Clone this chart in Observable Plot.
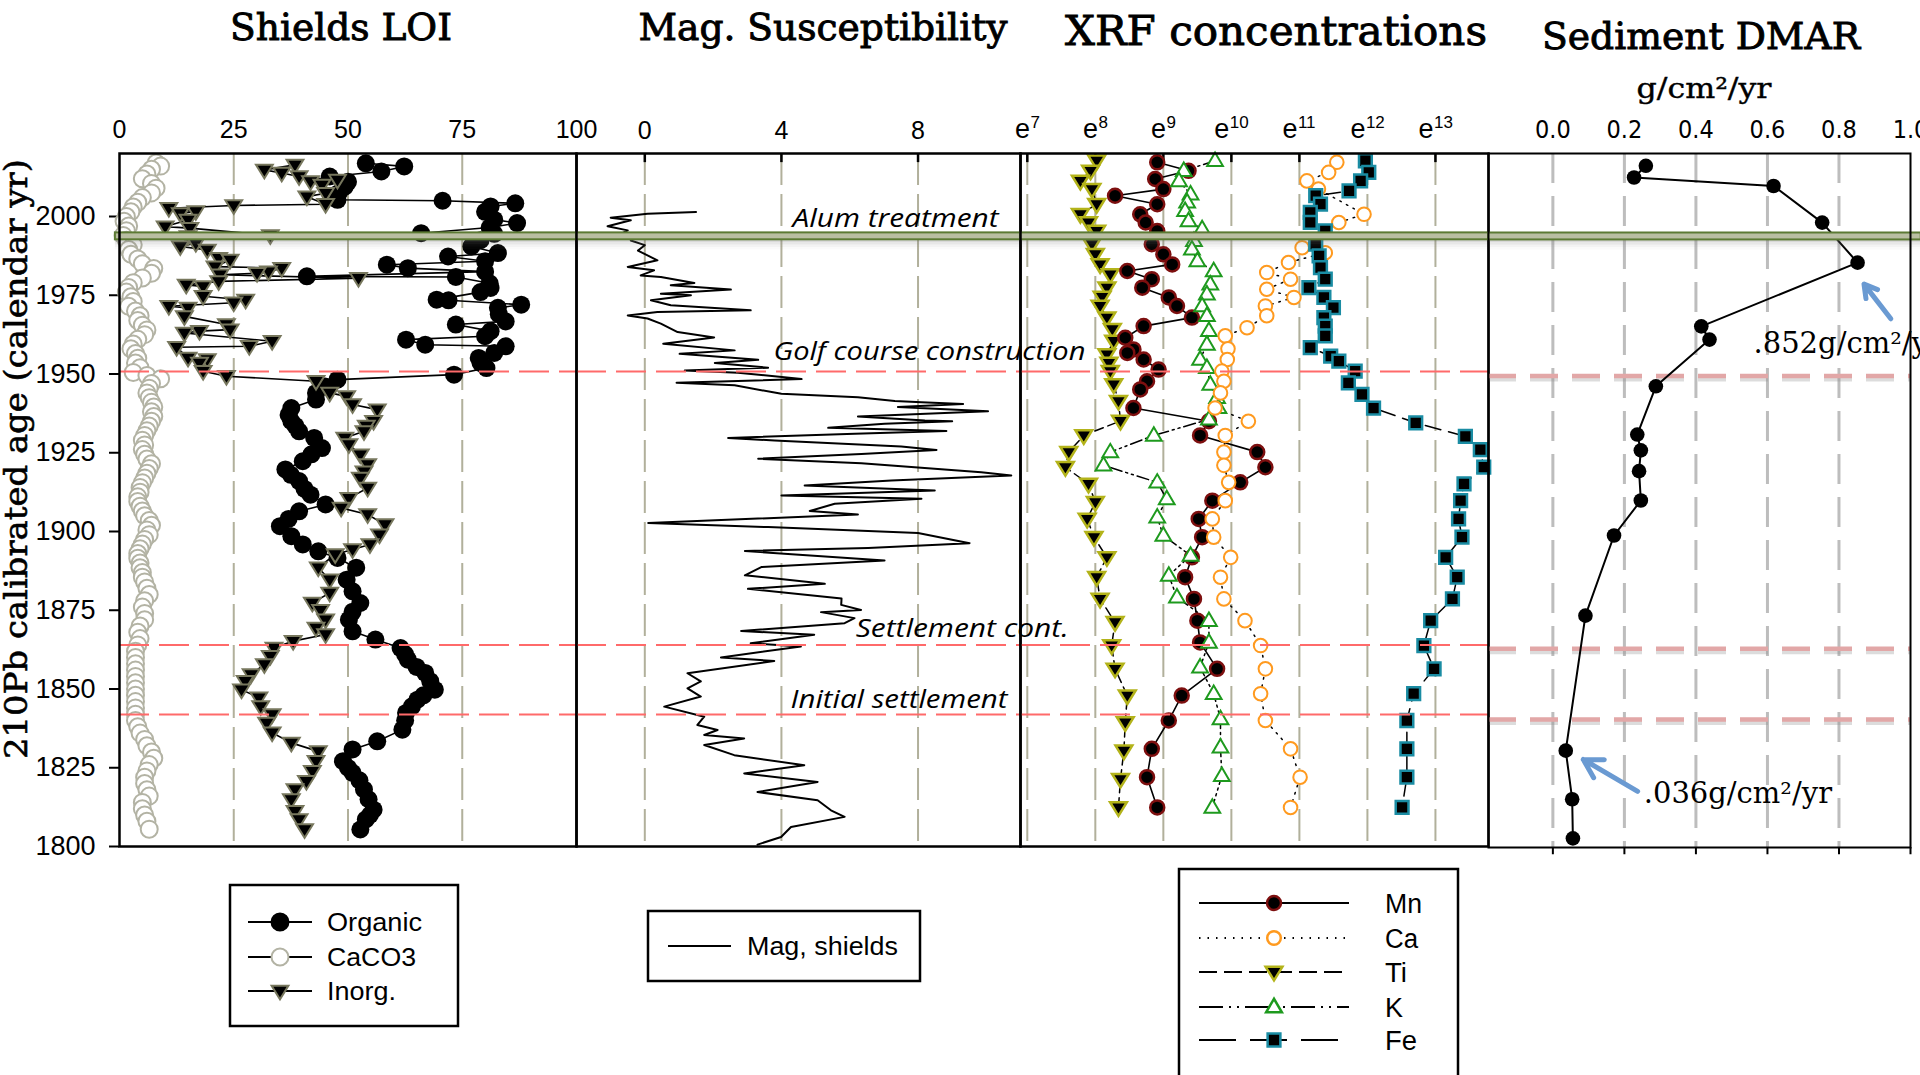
<!DOCTYPE html>
<html><head><meta charset="utf-8">
<script src="https://cdn.jsdelivr.net/npm/d3@7"></script>
<script src="https://cdn.jsdelivr.net/npm/@observablehq/plot@0.6"></script>
<style>
html,body{margin:0;padding:0;background:#fff;}
#wrap{position:relative;width:1920px;height:1075px;overflow:hidden;background:#fff;}
#wrap svg{position:absolute;left:0;top:0;}
</style></head><body><div id="wrap"></div>
<script>
// ---------- DATA : [year, value] ----------
const organic = [[2016.9,53.9],[2015.9,62.3],[2014.3,57.3],[2012.7,46],[2011,50],[2009.5,49.3],[2007.5,48],[2005.3,47.7],[2005,70.7],[2004.2,86.6],[2003.2,81.2],[2001.5,80],[1999,82],[1997.9,87],[1996.5,81],[1994.7,66],[1994.5,82],[1992.5,79],[1990.5,77],[1988.4,82.8],[1987.3,71.9],[1985.8,80],[1984.7,58.5],[1983.6,63.1],[1982.5,80],[1981,41],[1980.8,73.6],[1978.8,81],[1977.3,81.2],[1976,79],[1973.6,69.4],[1973.4,72],[1972,87.9],[1971,82.8],[1969,83],[1966.7,84.5],[1965.7,73.6],[1963.6,81.2],[1962,80],[1960.9,62.7],[1959.3,66.9],[1958.8,84.5],[1956.7,82],[1955.1,78.6],[1953.5,79],[1951.9,80.3],[1949.8,73.2],[1948.2,47.7],[1946,45],[1944,43],[1941.9,43],[1939.2,37.6],[1937,37],[1935,37.6],[1933.5,38.5],[1931.8,39.3],[1929.7,42.6],[1926.5,44.3],[1924.5,42],[1922.3,40.1],[1919.7,36.3],[1918,37.5],[1916,39.3],[1913.5,40.5],[1911.7,41.8],[1908.6,45.1],[1906.4,39.3],[1904,37],[1901.7,35.1],[1898.5,37.6],[1895.9,40.1],[1893.7,43.5],[1891.6,47.7],[1888.5,51.8],[1884.7,49.7],[1881,51],[1877.3,52.7],[1874.5,51],[1872,50.2],[1868.3,51],[1865.7,56],[1863,61.5],[1861,62.5],[1859.3,63.1],[1857,65],[1855.1,66.9],[1852.5,68],[1849.8,69],[1848,66.5],[1846.6,65.2],[1844.5,64],[1842.4,62.7],[1840,62.5],[1837.1,61.9],[1833.4,56.4],[1830.8,51],[1827.1,48.9],[1825,50],[1823.4,51],[1821,52.5],[1818.1,53.5],[1815,54.5],[1811.7,55.6],[1810,54.8],[1808.6,53.9],[1805.4,52.7]];
const inorg = [[2016.4,38.4],[2014.8,31.7],[2013.8,35.5],[2012.7,39.3],[2011.6,47.7],[2011.1,41.8],[2010,44.3],[2007.4,45.1],[2006.3,41],[2003.9,45.1],[2003.5,25],[2002.6,10.8],[2001.6,16.7],[2001,13.3],[1998.9,15],[1996.8,10],[1996.3,15.4],[1994,33],[1993.7,15],[1991.5,16.7],[1990.5,13.3],[1989.4,19.2],[1986.8,21.7],[1986.2,24.2],[1984.1,20.9],[1983.6,35.5],[1982.5,32.6],[1982,30.1],[1981.5,22],[1980.4,52.3],[1979.4,21.7],[1978.3,14.6],[1977.8,18.3],[1974.7,18.3],[1973.5,27.6],[1972.6,25],[1971.5,10.8],[1971,15],[1968.3,14.2],[1965.7,23.4],[1964.1,24.2],[1963.6,17.5],[1963,14.2],[1960.4,33.4],[1958.8,28.4],[1958.5,12.5],[1955.1,15],[1954.6,19.2],[1953.5,17.5],[1950.9,18.3],[1949.3,23.4],[1947.7,43],[1944,46],[1942.9,49.7],[1940.3,51],[1938.7,56.4],[1935,55.6],[1933.5,54],[1931.8,53.5],[1929.7,49.3],[1927.6,50.2],[1924.4,52.7],[1921.3,54.3],[1919,53.5],[1917,52.7],[1913.8,54.3],[1910.6,50.2],[1907.5,48.5],[1905.4,54.3],[1902.2,58.1],[1899,56.9],[1895.9,54.8],[1894.3,51],[1892.7,47.2],[1888.5,43.5],[1884.7,46],[1880.5,46],[1877.3,42.2],[1875,44],[1872,45.1],[1869.4,43],[1867.3,45.1],[1865.2,38],[1863,33.8],[1860.4,33],[1857.8,31.7],[1854.6,28.8],[1852.5,27.5],[1849.8,26.7],[1847.2,30.5],[1844.5,30.9],[1841.9,33.4],[1839.2,32.2],[1836.1,33.4],[1832.9,37.6],[1830.2,43.5],[1827.1,43],[1823.9,42.2],[1820.7,40.9],[1818.1,38.4],[1814.9,37.6],[1811.2,38.4],[1808.6,39.3],[1805.4,40.5]];
const caco3 = [[2017,8],[2016,9],[2015,7],[2013.5,6],[2012,5],[2010.5,7],[2009,8],[2007.5,7],[2006,5],[2004.5,4],[2003,3],[2001.5,2.5],[2000,1.5],[1998.5,1],[1997,2],[1995.5,1.5],[1994,0.8],[1992.5,1.5],[1991,3],[1989.5,2],[1988,2.5],[1986.5,4],[1985,5],[1983.5,7.5],[1982,7],[1980.5,5],[1979,3],[1977.5,2],[1976,1.5],[1974.5,2.5],[1973,3],[1971.5,2],[1970,3.5],[1968.5,4.5],[1967,4],[1965.5,5],[1964,6],[1962.5,5.5],[1961,4],[1959.5,3],[1958,2.5],[1956.5,3.5],[1955,4],[1953.5,3.5],[1952,4.5],[1950.5,3],[1949.5,6],[1948.5,9],[1947,7],[1945.5,6.5],[1944,6],[1942.5,6.5],[1941,7],[1939.5,7.5],[1938,7],[1936.5,7.5],[1935,7],[1933.5,6.5],[1932,6],[1930.5,5.5],[1929,5],[1927.5,5.5],[1926,5],[1924.5,5.5],[1923,6],[1921.5,7],[1920,6.5],[1918.5,6],[1917,5.5],[1915.5,5],[1914,4.5],[1912.5,4.5],[1911,4],[1909.5,4],[1908,4.5],[1906.5,5],[1905,5.5],[1903.5,6.5],[1902,7],[1900.5,6],[1899,6.5],[1897.5,5.5],[1896,5],[1894.5,4.5],[1893,4],[1891.5,4],[1890,4.5],[1888.5,4.5],[1887,5],[1885.5,5],[1884,5.5],[1882,6],[1880,6.5],[1878,5.5],[1876,5],[1874,5.5],[1872,5.5],[1870,4.5],[1868,4],[1866,4.5],[1864,4],[1862,3.5],[1860,3.5],[1858,3.5],[1856,3.5],[1854,3.5],[1852,3.5],[1850,3.5],[1848,3.5],[1846,3.5],[1844,3.5],[1842,3.5],[1840,3.5],[1838,4],[1836,4.5],[1834,5.5],[1832,6],[1830,7],[1828,7.5],[1826,6.5],[1824,6],[1822,5.5],[1820,5.5],[1818,6],[1816,6.5],[1814,5],[1812,5],[1810,5.5],[1808,6],[1805.5,6.5]];
const magSus = [[2001.4,1.5],[2000.9,0.08],[1999.6,-1.0],[1998.8,-0.41],[1996.9,-1.09],[1995.6,-0.5],[1994.5,-0.7],[1993.5,-0.2],[1992.4,-0.41],[1990.9,0],[1989.2,-0.2],[1987.1,0.18],[1986.1,0.37],[1984,-0.5],[1982.9,0.27],[1981.3,-0.12],[1980.8,0.47],[1978.9,1.45],[1978.2,0.76],[1976.8,2.52],[1975.5,0.47],[1975,1.35],[1973.4,0.18],[1971.8,0.76],[1970.2,3.1],[1969.7,0.37],[1968.6,-0.5],[1967.6,0.08],[1966,0.47],[1963.3,0.96],[1961.6,2.03],[1959.6,0.54],[1957.5,2.63],[1956.4,1.02],[1954.5,3.32],[1953.5,2.05],[1952,3.61],[1951.1,1.17],[1950.4,2.73],[1948.4,4.59],[1947.2,0.93],[1946.4,2.63],[1943.7,4.0],[1942.6,6.24],[1941.4,7.32],[1941,8.1],[1940.5,9.32],[1939.5,7.41],[1938.2,10.05],[1936.5,6.24],[1935.2,8.2],[1935,9.0],[1934.2,7.02],[1932.9,5.37],[1931.9,8.83],[1931,6.15],[1929.7,2.44],[1928.9,3.8],[1927,7.51],[1925.9,8.54],[1924.6,6.34],[1923.1,3.32],[1921.7,6.34],[1920.4,7.9],[1918.8,9.85],[1917.8,10.73],[1916.2,7.22],[1914.6,4.68],[1913,8.49],[1911.4,4.0],[1910.4,8.1],[1908.8,5.56],[1906.5,4.83],[1905.4,6.24],[1902.7,0.1],[1901.4,3.61],[1899.5,8.0],[1896.3,9.51],[1894.8,6.54],[1893.8,2.93],[1890.8,7.02],[1888.7,3.41],[1886.1,2.93],[1883.4,5.27],[1881.8,3.02],[1878.7,5.76],[1876.7,5.75],[1875.1,6.33],[1874.4,5.16],[1872.5,6.14],[1870.9,5.85],[1868.4,2.82],[1867.2,4.96],[1864.5,3.1],[1863.5,4.57],[1860,2.23],[1858.9,3.79],[1855,1.25],[1852.4,1.64],[1850.2,1.25],[1847.6,1.64],[1844.4,0.57],[1841.2,1.74],[1838.6,1.54],[1837,2.13],[1835.4,1.74],[1834.3,2.91],[1832.2,1.74],[1829,2.62],[1825.8,4.67],[1823.2,2.91],[1820.5,5.06],[1817.3,3.3],[1814.7,5.06],[1811.5,5.45],[1809.4,5.85],[1806.2,4.28],[1803,3.99],[1800.6,3.3]];
// XRF: value = natural-log exponent of concentration
const mn = [[2017.2,8.91],[2014.5,9.37],[2011.9,8.88],[2008.7,9.0],[2006.6,8.29],[2003.9,8.91],[2000.7,8.66],[1998.1,8.74],[1995.4,8.91],[1991.2,8.83],[1988,9.0],[1984.8,9.13],[1982.7,8.47],[1980.1,8.83],[1977.4,8.69],[1974.3,9.08],[1971.6,9.2],[1967.9,9.42],[1965.2,8.71],[1961.5,8.44],[1957.8,8.56],[1956.7,8.47],[1954.6,8.71],[1951.4,8.93],[1947.7,8.76],[1945.1,8.66],[1939.2,8.56],[1935,9.67],[1930.5,9.54],[1925.2,10.38],[1920.4,10.5],[1915.6,10.13],[1909.8,9.72],[1904,9.52],[1898.2,9.57],[1891.8,9.42],[1885.5,9.32],[1878.6,9.45],[1871.7,9.5],[1864.8,9.54],[1856.4,9.79],[1847.9,9.27],[1840,9.08],[1831,8.83],[1822,8.76],[1812.4,8.91]];
const ca = [[2017.2,11.55],[2014,11.43],[2011.3,11.11],[2008.7,11.28],[2000.7,11.95],[1998.1,11.58],[1990.1,11.04],[1988.5,11.38],[1985.4,10.84],[1982.2,10.52],[1980.1,10.87],[1976.9,10.52],[1974.3,10.92],[1971.6,10.5],[1968.5,10.52],[1964.7,10.23],[1962.1,9.91],[1958,9.95],[1954.6,9.94],[1950.9,9.86],[1947.7,9.89],[1944,9.84],[1939.2,9.76],[1935,10.25],[1930.5,9.91],[1925.2,9.89],[1921,9.89],[1915.6,9.96],[1909.8,9.91],[1904,9.72],[1898.2,9.74],[1891.8,9.99],[1885.5,9.84],[1878.6,9.89],[1871.7,10.2],[1863.8,10.43],[1856.4,10.5],[1848.5,10.43],[1840,10.5],[1831,10.87],[1822,11.01],[1812.4,10.87]];
const ti = [[2017.7,8.02],[2014.5,7.93],[2011.3,7.78],[2008.7,7.95],[2003.9,8.02],[2000.7,7.78],[1998.1,7.9],[1995.4,8.02],[1991.2,7.95],[1988,8.0],[1984.8,8.07],[1981.6,8.22],[1977.4,8.17],[1974.5,8.1],[1971.6,8.07],[1967.9,8.17],[1964.2,8.25],[1960.5,8.27],[1956.2,8.17],[1953.5,8.2],[1950.9,8.22],[1946.7,8.27],[1941.4,8.34],[1935.1,8.37],[1930.5,7.83],[1925.2,7.61],[1920.4,7.56],[1915.1,7.9],[1909.3,8.0],[1904,7.88],[1898.2,7.98],[1891.8,8.17],[1885.5,8.02],[1878.6,8.07],[1871.2,8.29],[1863.8,8.24],[1856.4,8.29],[1847.9,8.47],[1839.4,8.44],[1830.4,8.42],[1821.4,8.37],[1812.4,8.34]];
const k = [[2017.7,9.76],[2014.5,9.3],[2011.3,9.23],[2007.1,9.4],[2004.5,9.35],[2001.8,9.32],[1998.6,9.37],[1996,9.57],[1992.3,9.45],[1989.6,9.42],[1985.9,9.5],[1982.7,9.74],[1978.5,9.69],[1975.3,9.64],[1971.6,9.57],[1968.5,9.64],[1963.7,9.67],[1959.4,9.64],[1954.6,9.54],[1952,9.64],[1946.7,9.69],[1942.5,9.79],[1939.3,9.81],[1935.6,9.67],[1930.5,8.86],[1925.2,8.22],[1921,8.12],[1915.6,8.91],[1910.3,9.05],[1904.5,8.91],[1898.7,9.0],[1892.4,9.4],[1886,9.08],[1879.1,9.2],[1871.7,9.67],[1864.8,9.67],[1856.9,9.54],[1848.5,9.74],[1840.5,9.84],[1831.5,9.84],[1822.5,9.86],[1812.4,9.72]];
const fe = [[2017.7,11.97],[2014,12.02],[2011.3,11.9],[2008.1,11.73],[2006.6,11.24],[2003.9,11.31],[2001.3,11.16],[1998.1,11.16],[1995.4,11.38],[1991.2,11.24],[1987.5,11.29],[1983.8,11.31],[1980.1,11.38],[1977.4,11.14],[1974.3,11.36],[1971.1,11.5],[1967.9,11.36],[1965.2,11.38],[1962.1,11.38],[1958.4,11.16],[1955.7,11.46],[1954.1,11.58],[1950.9,11.82],[1947.2,11.72],[1943.5,11.92],[1939.2,12.09],[1934.5,12.71],[1930.2,13.44],[1926,13.66],[1920.4,13.71],[1915.1,13.42],[1909.8,13.37],[1904,13.34],[1898.2,13.39],[1891.8,13.15],[1885.5,13.32],[1878.6,13.25],[1871.7,12.93],[1863.8,12.83],[1856.4,12.98],[1848.5,12.68],[1840,12.58],[1831,12.58],[1822,12.58],[1812.4,12.51]];
const dmar = [[2016.1,0.26],[2012.4,0.227],[2009.7,0.617],[1998.1,0.753],[1985.4,0.852],[1965.2,0.415],[1961,0.438],[1946.2,0.288],[1930.9,0.236],[1925.9,0.246],[1919.3,0.241],[1910,0.246],[1898.9,0.171],[1873.5,0.091],[1830.7,0.036],[1815.3,0.054],[1802.9,0.056]];

const loiTicks = [0,25,50,75,100];
const magTicks = [0,4,8];
const xrfTicks = [7,8,9,10,11,12,13];
const dmarTicks = [0,0.2,0.4,0.6,0.8,1.0];
const yearTicks = [1800,1825,1850,1875,1900,1925,1950,1975,2000];
const eventYears = [1950.8,1864.0,1841.9];
const dmarEventYears = [1949.5,1863.0,1840.6];
const alumBand = [1992.6,1994.8];
const dmarNotes = [{x:0.561,y:1956.8,t:".852g/cm²/yr"},{x:0.254,y:1814,t:".036g/cm²/yr"}];
const dmarArrows = [{x1:0.945,y1:1967.6,x2:0.870,y2:1978.6},{x1:0.237,y1:1817.8,x2:0.085,y2:1827.9}];
const eventNotes = [{x:4.34,y:1996.5,t:"Alum treatment",len:206},{x:3.78,y:1954.3,t:"Golf course construction",len:312},{x:6.19,y:1866.3,t:"Settlement cont.",len:213},{x:4.28,y:1843.8,t:"Initial settlement",len:217}];

// ---------- helpers ----------
const W=1920,H=1075,YD=[1800,2020];
const F = {loi:{l:119,r:576,t:153,b:846},mag:{l:576,r:1020,t:153,b:846},xrf:{l:1020,r:1488,t:153,b:846},dm:{l:1488,r:1910,t:153,b:847}};
const SANS = "'Liberation Sans', Arial, sans-serif";
const SERIF = "'DejaVu Serif', serif";
const GRID = {stroke:"#b1b09b",strokeWidth:2,strokeDasharray:"32,9"};
const triDown = {draw(c,s){const r=Math.sqrt(s/Math.PI),w=r*1.05,t=r*0.65,b=r*1.05;c.moveTo(-w,-t);c.lineTo(w,-t);c.lineTo(0,b);c.closePath();}};
const triUp = {draw(c,s){const r=Math.sqrt(s/Math.PI),w=r*1.05,t=r*0.7,b=r*1.1;c.moveTo(-w,t);c.lineTo(w,t);c.lineTo(0,-b);c.closePath();}};
const X = d=>d[1], Y = d=>d[0];
const dims = f => ({width:W,height:H,marginLeft:f.l,marginRight:W-f.r,marginTop:f.t,marginBottom:H-f.b,
  style:{background:"transparent",overflow:"visible",fontFamily:SANS,maxWidth:"none",color:"black"}});
const events = () => Plot.ruleY(eventYears,{stroke:"#ff6a6a",strokeWidth:2,strokeDasharray:"30,10"});
function band(x1,x2){
  const sh=[[0.0,0.8,0.30],[0.8,1.6,0.18],[1.6,2.4,0.09],[2.4,3.2,0.04]];
  return [
    Plot.rect(sh,{x1:()=>x1,x2:()=>x2,y1:d=>alumBand[0]-d[1],y2:d=>alumBand[0]-d[0],fill:"#7a7a7a",fillOpacity:d=>d[2]}),
    Plot.rect([alumBand],{x1:()=>x1,x2:()=>x2,y1:d=>d[0],y2:d=>d[1],fill:"#b9bea2",stroke:"#5c7a34",strokeWidth:2})
  ];
}
const wrap = document.getElementById("wrap");

// ---------- LOI ----------
const loiPlot = Plot.plot({...dims(F.loi), x:{domain:[0,100]}, y:{domain:YD},
  marks:[
    Plot.ruleX([25,50,75],GRID),
    Plot.axisX({anchor:"top",ticks:loiTicks,tickSize:0,tickPadding:16,fontSize:25,label:null}),
    Plot.axisY({ticks:yearTicks,tickSize:10,tickPadding:14,fontSize:27,label:null,tickFormat:d=>String(d),strokeWidth:2}),
    Plot.line(caco3,{x:X,y:Y,stroke:"#a9a99a",strokeWidth:1.2}),
    Plot.dot(caco3,{x:X,y:Y,r:8.5,fill:"white",stroke:"#b3b3a4",strokeWidth:2}),
    Plot.line(organic,{x:X,y:Y,stroke:"black",strokeWidth:1.6}),
    Plot.dot(organic,{x:X,y:Y,r:9,fill:"black"}),
    Plot.line(inorg,{x:X,y:Y,stroke:"black",strokeWidth:1.6}),
    Plot.dot(inorg,{x:X,y:Y,r:8,symbol:triDown,fill:"black",stroke:"#77775d",strokeWidth:2}),
    events(),
    ...band(-0.9,100),
    Plot.frame({stroke:"black",strokeWidth:2.5})
  ]});
wrap.appendChild(loiPlot);

// ---------- Mag ----------
const magPlot = Plot.plot({...dims(F.mag), x:{domain:[-2,11]}, y:{domain:YD,axis:null},
  marks:[
    Plot.ruleX(magTicks,GRID),
    Plot.axisX({anchor:"top",ticks:magTicks,tickSize:0,tickPadding:15,fontSize:25,label:null}),
    Plot.ruleX(magTicks,{y1:2020,y2:2017.1,stroke:"black",strokeWidth:2.5}),
    Plot.line(magSus,{x:X,y:Y,stroke:"black",strokeWidth:2}),
    events(),
    ...band(-2,11),
    Plot.frame({stroke:"black",strokeWidth:2.5})
  ]});
wrap.appendChild(magPlot);

// ---------- XRF ----------
const expOf = d => String(d);
const xrfOne = xrfTicks.filter(d=>d<10), xrfTwo = xrfTicks.filter(d=>d>=10);
const eLabels = (ticks, n) => [
  Plot.text(ticks,{x:d=>d,y:()=>2020,text:()=>"e",textAnchor:"start",lineAnchor:"bottom",dy:-16,dx:-(15+9.5*n)/2,fontSize:27,fontFamily:SANS,fill:"black"}),
  Plot.text(ticks,{x:d=>d,y:()=>2020,text:expOf,textAnchor:"start",lineAnchor:"bottom",dy:-26,dx:-(15+9.5*n)/2+15.5,fontSize:17,fontFamily:SANS,fill:"black"})
];
const xrfPlot = Plot.plot({...dims(F.xrf), x:{domain:[6.9,13.78]}, y:{domain:YD,axis:null},
  marks:[
    Plot.ruleX(xrfTicks,GRID),
    Plot.axisX({anchor:"top",ticks:xrfTicks,tickSize:0,tickFormat:()=>"",label:null}),
    ...eLabels(xrfOne,1), ...eLabels(xrfTwo,2),
    Plot.ruleX(xrfTicks,{y1:2020,y2:2017.1,stroke:"black",strokeWidth:2.5}),
    Plot.line(ti,{x:X,y:Y,stroke:"black",strokeWidth:1.5,strokeDasharray:"9,5"}),
    Plot.line(mn,{x:X,y:Y,stroke:"black",strokeWidth:1.6}),
    Plot.line(k,{x:X,y:Y,stroke:"black",strokeWidth:1.5,strokeDasharray:"12,4,2,4,2,4"}),
    Plot.line(ca,{x:X,y:Y,stroke:"black",strokeWidth:1.5,strokeDasharray:"1.5,6"}),
    Plot.line(fe,{x:X,y:Y,stroke:"black",strokeWidth:1.5,strokeDasharray:"16,8"}),
    Plot.dot(ti,{x:X,y:Y,r:8,symbol:triDown,fill:"black",stroke:"#b3b31a",strokeWidth:2.5}),
    Plot.dot(mn,{x:X,y:Y,r:7,fill:"black",stroke:"#7d0f0f",strokeWidth:2.5}),
    Plot.dot(k,{x:X,y:Y,r:7.5,symbol:triUp,fill:"white",stroke:"#1e9a1e",strokeWidth:2}),
    Plot.dot(ca,{x:X,y:Y,r:6.8,fill:"white",stroke:"#ff9a1f",strokeWidth:2}),
    Plot.dot(fe,{x:X,y:Y,r:7.2,symbol:"square",fill:"black",stroke:"#1a8ca3",strokeWidth:2.5}),
    events(),
    ...band(6.9,13.78),
    Plot.frame({stroke:"black",strokeWidth:2.5})
  ]});
wrap.appendChild(xrfPlot);

// ---------- DMAR ----------
const dmPlot = Plot.plot({...dims(F.dm), x:{domain:[-0.18,1.0]}, y:{domain:YD,axis:null},
  marks:[
    Plot.ruleX(dmarTicks.slice(0,5),{stroke:"#bdbdbd",strokeWidth:3,strokeDasharray:"30,13"}),
    Plot.axisX({anchor:"top",ticks:dmarTicks,tickSize:0,tickPadding:16,fontSize:25,label:null,tickFormat:d3.format(".1f"),fontFamily:"'Liberation Sans Narrow','DejaVu Sans Condensed',sans-serif"}),
    Plot.ruleX(dmarTicks,{y1:1800,y2:1797.7,stroke:"black",strokeWidth:2}),
    Plot.ruleY(dmarEventYears,{stroke:"#8c8c8c",strokeOpacity:0.3,strokeWidth:5,dy:3,strokeDasharray:"28,14"}),
    Plot.ruleY(dmarEventYears,{stroke:"#e2a7a7",strokeWidth:4.5,strokeDasharray:"28,14"}),
    Plot.line(dmar,{x:X,y:Y,stroke:"black",strokeWidth:2}),
    Plot.dot(dmar,{x:X,y:Y,r:7.3,fill:"black"}),
    ...band(-0.18,1.03),
    Plot.arrow(dmarArrows,{x1:"x1",y1:"y1",x2:"x2",y2:"y2",stroke:"#6a9ad2",strokeWidth:5,headLength:16}),
    Plot.text(dmarNotes,{x:"x",y:"y",text:"t",textAnchor:"start",lineAnchor:"bottom",fontSize:29,fontFamily:SERIF,fill:"black"}),
    Plot.frame({stroke:"black",strokeWidth:2})
  ]});
wrap.appendChild(dmPlot);

// ---------- overlay: titles, notes, legends ----------
const ov = d3.select(wrap).append("svg").attr("width",W).attr("height",H);
function txt(x,y,s,o){
  const t = ov.append("text").attr("x",x).attr("y",y).text(s)
    .attr("font-family",o.f||SANS).attr("font-size",o.s).attr("text-anchor",o.a||"start").attr("fill","black");
  if(o.i) t.attr("font-style","italic");
  if(o.sw) t.attr("stroke","black").attr("stroke-width",o.sw);
  if(o.len) t.attr("textLength",o.len).attr("lengthAdjust","spacingAndGlyphs");
  if(o.rot) t.attr("transform",`rotate(${o.rot},${x},${y})`);
  return t;
}
txt(341,40,"Shields LOI",{f:SERIF,s:37,a:"middle",len:222,sw:0.9});
txt(823,40,"Mag. Susceptibility",{f:SERIF,s:37,a:"middle",len:369,sw:0.9});
txt(1276,45,"XRF concentrations",{f:SERIF,s:41,a:"middle",len:422,sw:0.9});
txt(1701,49,"Sediment DMAR",{f:SERIF,s:38,a:"middle",len:318,sw:0.9});
txt(1704,98,"g/cm²/yr",{f:SERIF,s:28,a:"middle",len:135,sw:0.4});
txt(27,459,"210Pb calibrated age (calendar yr)",{f:SERIF,s:32,a:"middle",len:600,rot:-90,sw:0.6});

const mx = magPlot.scale("x"), my = magPlot.scale("y");
eventNotes.forEach(n=>txt(mx.apply(n.x),my.apply(n.y),n.t,{f:"'Open Sans', Lato, sans-serif",s:26,i:true,len:n.len}));

function sym(x,y,type,r,fill,stroke,sw){
  ov.append("path").attr("transform",`translate(${x},${y})`)
    .attr("d",d3.symbol().type(type).size(Math.PI*r*r)())
    .attr("fill",fill).attr("stroke",stroke).attr("stroke-width",sw);
}
function lline(x1,x2,y,dash,color){
  ov.append("line").attr("x1",x1).attr("x2",x2).attr("y1",y).attr("y2",y)
    .attr("stroke",color||"black").attr("stroke-width",2).attr("stroke-dasharray",dash||null);
}
// LOI legend
ov.append("rect").attr("x",230).attr("y",885).attr("width",228).attr("height",141).attr("fill","white").attr("stroke","black").attr("stroke-width",2.5);
[
  {n:"Organic",y:922,t:d3.symbolCircle,r:8.5,f:"black",s:"black",len:95},
  {n:"CaCO3",y:957,t:d3.symbolCircle,r:8.5,f:"white",s:"#b3b3a4",len:89},
  {n:"Inorg.",y:991,t:triDown,r:8,f:"black",s:"#77775d",len:69}
].forEach(e=>{lline(248,312,e.y);sym(280,e.y,e.t,e.r,e.f,e.s,2);txt(327,e.y+9,e.n,{s:25,len:e.len});});
// Mag legend
ov.append("rect").attr("x",648).attr("y",911).attr("width",272).attr("height",70).attr("fill","white").attr("stroke","black").attr("stroke-width",2.5);
lline(668,731,946);
txt(747,955,"Mag, shields",{s:25,len:151});
// XRF legend
ov.append("rect").attr("x",1179).attr("y",869).attr("width",279).attr("height",240).attr("fill","white").attr("stroke","black").attr("stroke-width",2.5);
[
  {n:"Mn",y:903,d:null,t:d3.symbolCircle,r:7,f:"black",s:"#7d0f0f",len:37},
  {n:"Ca",y:938,d:"1.5,7",t:d3.symbolCircle,r:6.8,f:"white",s:"#ff9a1f",len:33},
  {n:"Ti",y:972,d:"18,7",t:triDown,r:8,f:"black",s:"#b3b31a",len:22},
  {n:"K",y:1007,d:"24,6,2,6,2,6",t:triUp,r:7.5,f:"white",s:"#1e9a1e",len:18},
  {n:"Fe",y:1040,d:"37,14",t:d3.symbolSquare,r:7.2,f:"black",s:"#1a8ca3",len:32}
].forEach(e=>{lline(1199,1349,e.y,e.d);sym(1274,e.y,e.t,e.r,e.f,e.s,2.5);txt(1385,e.y+10,e.n,{s:27,len:e.len});});
</script></body></html>
